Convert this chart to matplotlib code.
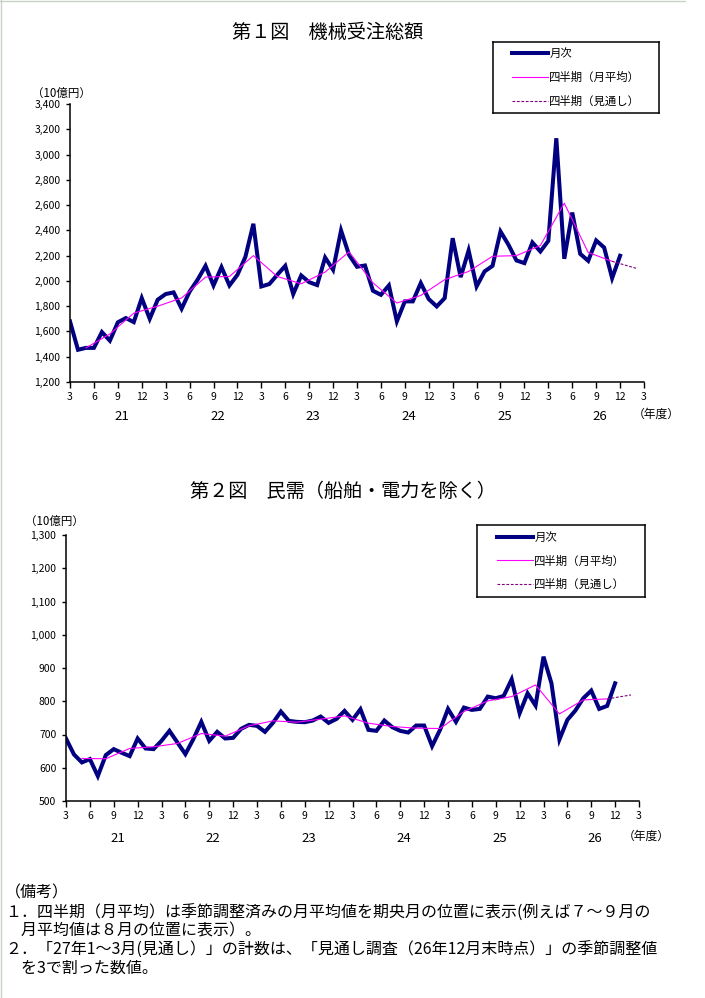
"""
Machinery orders: monthly values and quarterly averages (two charts)
"""

import matplotlib
matplotlib.use("Agg")
import matplotlib.pyplot as plt
from matplotlib.lines import Line2D
from matplotlib.ticker import FuncFormatter
import numpy as np

plt.rcParams['font.family'] = ['Noto Sans CJK JP', 'DejaVu Sans']

# Data (10億円), month index 0 = 2009/3 (平成21年3月)
total_monthly = [1680, 1455, 1470, 1470, 1595, 1527, 1672, 1706, 1674, 1864,
                 1700, 1851, 1896, 1909, 1780, 1915, 2009, 2119, 1964, 2109,
                 1964, 2048, 2190, 2452, 1956, 1975, 2048, 2119, 1896, 2043,
                 1990, 1967, 2185, 2088, 2399, 2206, 2112, 2122, 1922, 1890,
                 1964, 1680, 1838, 1838, 1983, 1856, 1798, 1864, 2338, 2030,
                 2241, 1956, 2075, 2119, 2391, 2286, 2162, 2141, 2304, 2233,
                 2317, 3129, 2175, 2541, 2214, 2159, 2320, 2264, 2022, 2199]
total_quarter = [1470, 1580, 1745, 1800, 1865, 2030, 2035, 2200, 2035, 1977,
                 2070, 2230, 1985, 1825, 1885, 2010, 2075, 2195, 2200, 2280,
                 2615, 2225, 2155]
total_forecast = 2100

private_monthly = [688, 640, 616, 626, 575, 638, 656, 645, 635, 688,
                   658, 656, 681, 711, 676, 641, 686, 738, 681, 708,
                   688, 690, 717, 729, 726, 708, 735, 769, 741, 738,
                   737, 742, 754, 735, 747, 771, 744, 776, 714, 711,
                   742, 722, 711, 706, 727, 727, 665, 714, 777, 738,
                   781, 774, 777, 814, 809, 816, 866, 764, 824, 787,
                   934, 854, 685, 744, 772, 809, 832, 777, 786, 854]
private_quarter = [628, 627, 658, 663, 673, 703, 695, 726, 741, 737,
                   746, 756, 734, 724, 719, 718, 769, 801, 814, 849,
                   762, 804, 807]
private_forecast = 819

quarter_ticks = ["3", "6", "9", "12"] * 6 + ["3"]
fiscal_years = ["21", "22", "23", "24", "25", "26"]
legend_labels = ["月次", "四半期（月平均）", "四半期（見通し）"]

W, H = 705, 998


def fig_rect(x0, y0, x1, y1):
    "Pixel box (top-left origin) to figure fraction rect."
    return [x0 / W, 1 - y1 / H, (x1 - x0) / W, (y1 - y0) / H]


def draw_chart(fig, rect, monthly, quarter, forecast, ylim, ystep,
               year_off, nendo_off):
    ax = fig.add_axes(rect)
    months = np.arange(len(monthly))
    qx = np.arange(2, len(monthly), 3)

    l1, = ax.plot(months, monthly, color="#000080", lw=2.9, solid_joinstyle="miter")
    l2, = ax.plot(qx, quarter, color="#ff00ff", lw=0.8)
    l3, = ax.plot([qx[-1], qx[-1] + 3], [quarter[-1], forecast],
                  color="#800080", lw=0.8, ls=(0, (2.5, 1.5)))

    ax.set_xlim(0, 72)
    ax.set_ylim(*ylim)
    ax.set_xticks(np.arange(0, 73, 3))
    ax.set_xticklabels(quarter_ticks)
    ax.set_yticks(np.arange(ylim[0], ylim[1] + 1, ystep))
    ax.yaxis.set_major_formatter(FuncFormatter(lambda v, p: f"{int(v):,}"))
    ax.tick_params(axis="both", direction="out", labelsize=7.5, width=1,
                   color="black")
    ax.tick_params(axis="x", length=4, pad=3)
    ax.tick_params(axis="y", length=3, pad=4)
    for s in ["top", "right"]:
        ax.spines[s].set_visible(False)
    for s in ["left", "bottom"]:
        ax.spines[s].set_linewidth(1.1)

    for i, fy in enumerate(fiscal_years):
        ax.annotate(fy, xy=(6.5 + 12 * i, 0), xycoords=("data", "axes fraction"),
                    xytext=(0, year_off), textcoords="offset points",
                    ha="center", va="center", fontsize=9.5)
    ax.annotate("（年度）", xy=(72, 0), xycoords=("data", "axes fraction"),
                xytext=(nendo_off, year_off + 1.5), textcoords="offset points",
                ha="center", va="center", fontsize=8.5)
    return ax, [l1, l2, l3]


def draw_legend(fig, rect, handles):
    lax = fig.add_axes(rect)
    lax.set_xticks([])
    lax.set_yticks([])
    for s in lax.spines.values():
        s.set_linewidth(1.1)
    lax.legend(handles, legend_labels, loc="center", frameon=False,
               fontsize=8.2, handlelength=3.2, handletextpad=0.1,
               labelspacing=1.1)


fig = plt.figure(figsize=(W / 100, H / 100), dpi=100)

# Chart 1
ax1, h1 = draw_chart(fig, fig_rect(70, 104, 644, 382), total_monthly,
                     total_quarter, total_forecast, (1200, 3400), 200, -25, 9)
fig.text(328 / W, 1 - 32 / H, "第１図　機械受注総額", ha="center", va="center",
         fontsize=13.8)
fig.text(32 / W, 1 - 93 / H, "（10億円）", ha="left", va="center", fontsize=8.3)
draw_legend(fig, fig_rect(493, 42, 659, 113), h1)

# Chart 2
ax2, h2 = draw_chart(fig, fig_rect(66, 535, 639, 801), private_monthly,
                     private_quarter, private_forecast, (500, 1300), 100, -27, 5)
fig.text(343 / W, 1 - 491 / H, "第２図　民需（船舶・電力を除く）", ha="center",
         va="center", fontsize=13.8)
fig.text(25 / W, 1 - 521 / H, "（10億円）", ha="left", va="center", fontsize=8.3)
draw_legend(fig, fig_rect(477, 525, 645, 597), h2)

# Notes
notes = [
    "（備考）",
    "１．四半期（月平均）は季節調整済みの月平均値を期央月の位置に表示(例えば７～９月の",
    "　月平均値は８月の位置に表示）。",
    "２．「27年1～3月(見通し）」の計数は、「見通し調査（26年12月末時点）」の季節調整値",
    "　を3で割った数値。",
]
note_y = [893, 913, 931, 950, 968]
for txt, y in zip(notes, note_y):
    fig.text(5 / W, 1 - y / H, txt, ha="left", va="center", fontsize=11.5)

# thin page border (top and left)
fig.add_artist(Line2D([0, 685 / W], [1 - 0.5 / H, 1 - 0.5 / H], color="#c8d4c8", lw=1))
fig.add_artist(Line2D([0.5 / W, 0.5 / W], [0, 1], color="#c8d4c8", lw=1))

fig.savefig("out.png", dpi=100)
